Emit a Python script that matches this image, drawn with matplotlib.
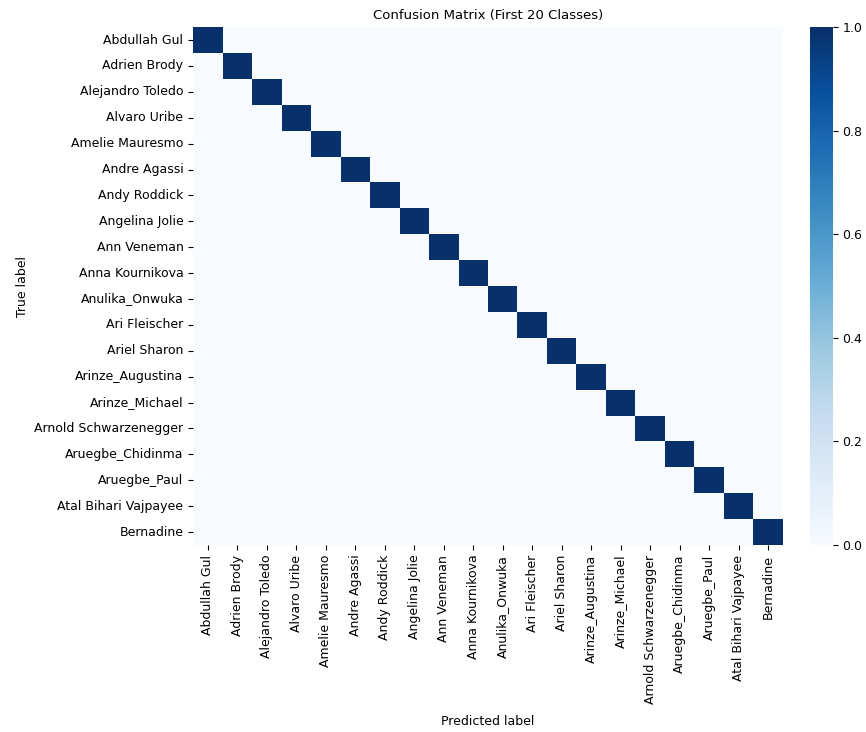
import numpy as np
import matplotlib
matplotlib.use("Agg")
import matplotlib.pyplot as plt
import seaborn as sns

# first 20 identities of the dataset
class_names = [
    "Abdullah Gul", "Adrien Brody", "Alejandro Toledo", "Alvaro Uribe",
    "Amelie Mauresmo", "Andre Agassi", "Andy Roddick", "Angelina Jolie",
    "Ann Veneman", "Anna Kournikova", "Anulika_Onwuka", "Ari Fleischer",
    "Ariel Sharon", "Arinze_Augustina", "Arinze_Michael",
    "Arnold Schwarzenegger", "Aruegbe_Chidinma", "Aruegbe_Paul",
    "Atal Bihari Vajpayee", "Bernadine",
]

# normalised confusion matrix: every sample predicted correctly
diag_values = [1.0] * 20
cm = np.diag(diag_values)

fig = plt.figure(figsize=(8.66, 7.32), dpi=100)
ax = fig.add_axes([0.223, 0.2555, 0.681, 0.7075])
cax = fig.add_axes([0.935, 0.2555, 0.0266, 0.7075])

sns.heatmap(cm, cmap="Blues", vmin=0, vmax=1, ax=ax, cbar_ax=cax,
            xticklabels=class_names, yticklabels=class_names)

ax.set_title("Confusion Matrix (First 20 Classes)", fontsize=9.5)
ax.set_xlabel("Predicted label", fontsize=9, labelpad=8)
ax.set_ylabel("True label", fontsize=9)
ax.tick_params(axis="both", labelsize=9)
plt.setp(ax.get_xticklabels(), rotation=90)
plt.setp(ax.get_yticklabels(), rotation=0)
cax.tick_params(labelsize=9)

fig.savefig("out.png", dpi=100)
